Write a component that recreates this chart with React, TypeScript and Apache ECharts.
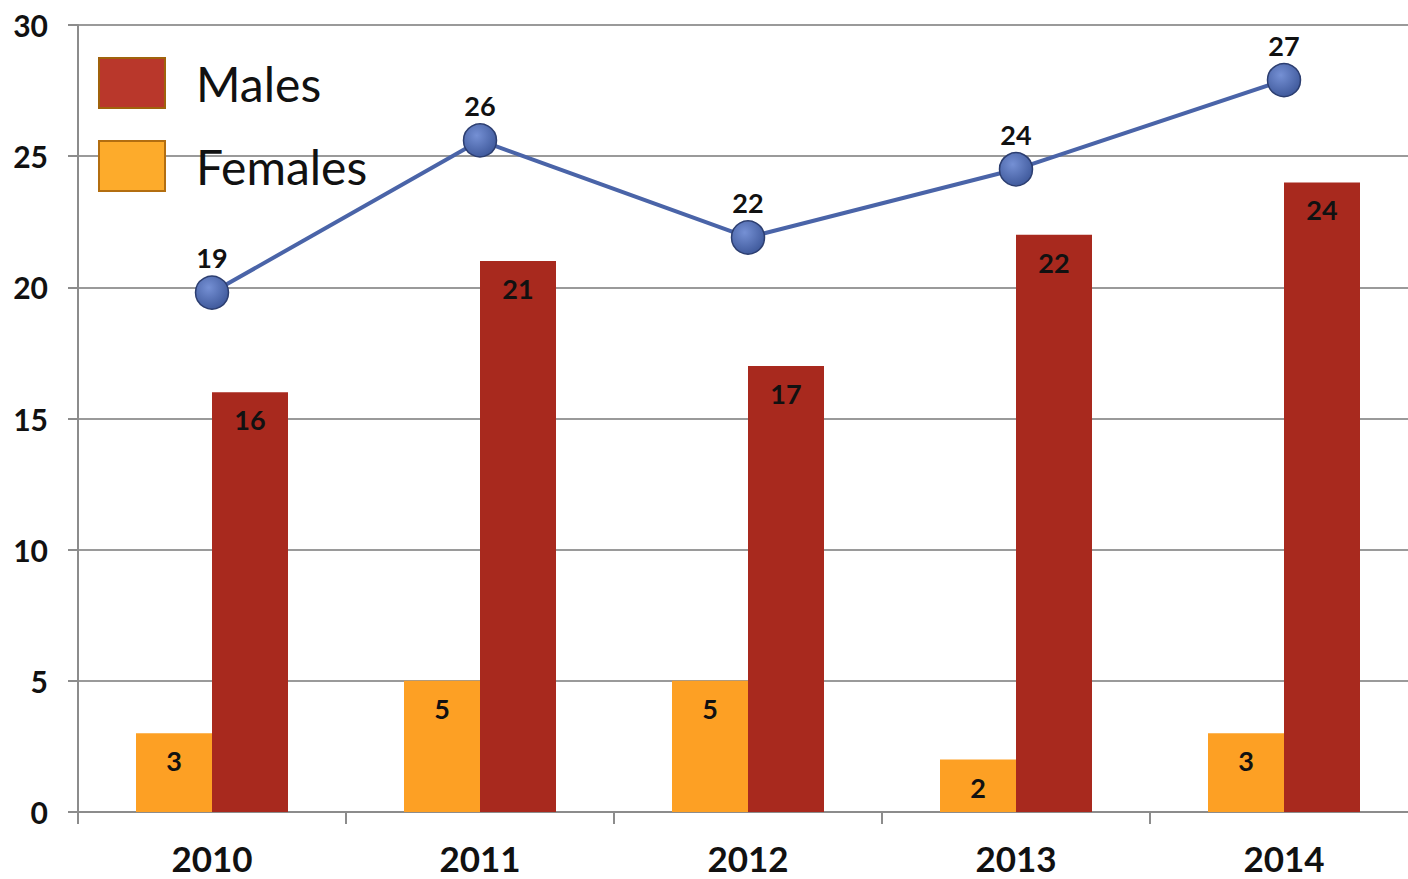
import React, { useEffect, useRef } from "react";
import * as echarts from "echarts";

const years = ["2010", "2011", "2012", "2013", "2014"];
const females = [3, 5, 5, 2, 3];
const males = [16, 21, 17, 22, 24];
// Line point positions as drawn, and the totals printed above them
const linePositions = [19.8, 25.6, 21.9, 24.5, 27.9];
const lineLabels = [19, 26, 22, 24, 27];
const yTicks = [0, 5, 10, 15, 20, 25, 30];

const FONT = "Lato, 'DejaVu Sans', sans-serif";

export default function App() {
  const ref = useRef<HTMLDivElement>(null);
  useEffect(() => {
    const chart = echarts.init(ref.current!, null, { renderer: "svg" });
    const lineData = linePositions.map((v, i) => ({ value: v, totalLabel: lineLabels[i] }));
    chart.setOption({
      animation: false,
      backgroundColor: "#ffffff",
      grid: { left: 78, top: 25, width: 1340, height: 787, containLabel: false },
      legend: {
        orient: "vertical",
        left: 93,
        top: 52,
        itemWidth: 66,
        itemHeight: 50,
        itemGap: 31,
        icon: "rect",
        textStyle: {
          fontSize: 48,
          lineHeight: 50,
          fontFamily: FONT,
          color: "#111",
          padding: [0, 0, 0, 26],
        },
        data: [
          { name: "Males", itemStyle: { color: "#b9372b", borderColor: "#a0620c", borderWidth: 2 } },
          { name: "Females", itemStyle: { color: "#fdab2b", borderColor: "#b36e10", borderWidth: 2 } },
        ],
      },
      xAxis: {
        type: "category",
        data: years,
        axisLine: { lineStyle: { color: "#8c8c8c", width: 2 } },
        axisTick: { show: true, length: 12, lineStyle: { color: "#8c8c8c", width: 2 } },
        axisLabel: {
          fontSize: 35,
          lineHeight: 34,
          fontWeight: "bold",
          color: "#111",
          fontFamily: FONT,
          margin: 29,
        },
      },
      yAxis: {
        type: "value",
        min: yTicks[0],
        max: yTicks[yTicks.length - 1],
        interval: 5,
        axisLine: { show: true, lineStyle: { color: "#8c8c8c", width: 2 } },
        axisTick: { show: true, length: 10, lineStyle: { color: "#8c8c8c", width: 2 } },
        splitLine: { lineStyle: { color: "#9a9a9a", width: 2 } },
        axisLabel: { fontSize: 30, fontWeight: "bold", color: "#111", fontFamily: FONT, margin: 30 },
      },
      series: [
        {
          name: "Females",
          type: "bar",
          data: females,
          barWidth: 76,
          barGap: "0%",
          itemStyle: { color: "#fda024" },
          label: {
            show: true,
            position: "insideTop",
            distance: 14,
            fontSize: 27,
            fontWeight: "bold",
            color: "#111",
            fontFamily: FONT,
          },
        },
        {
          name: "Males",
          type: "bar",
          data: males,
          barWidth: 76,
          barGap: "0%",
          itemStyle: { color: "#a8291e" },
          label: {
            show: true,
            position: "insideTop",
            distance: 14,
            fontSize: 27,
            fontWeight: "bold",
            color: "#111",
            fontFamily: FONT,
          },
        },
        {
          name: "Total",
          type: "line",
          data: lineData,
          symbol: "circle",
          symbolSize: 33,
          lineStyle: { color: "#4a64a8", width: 4 },
          itemStyle: {
            color: {
              type: "radial",
              x: 0.4,
              y: 0.35,
              r: 0.7,
              colorStops: [
                { offset: 0, color: "#7590d4" },
                { offset: 1, color: "#3d5799" },
              ],
            },
            borderColor: "#2c3e70",
            borderWidth: 1.5,
          },
          label: {
            show: true,
            position: "top",
            distance: 4,
            fontSize: 27,
            fontWeight: "bold",
            color: "#111",
            fontFamily: FONT,
            formatter: (p: any) => String(p.data.totalLabel),
          },
          z: 5,
        },
      ],
    });
    return () => chart.dispose();
  }, []);
  return (
    <div
      style={{
        position: "absolute",
        left: 0,
        top: 0,
        width: 1408,
        height: 879,
        overflow: "hidden",
      }}
    >
      <div ref={ref} style={{ width: 1420, height: 879 }} />
    </div>
  );
}
